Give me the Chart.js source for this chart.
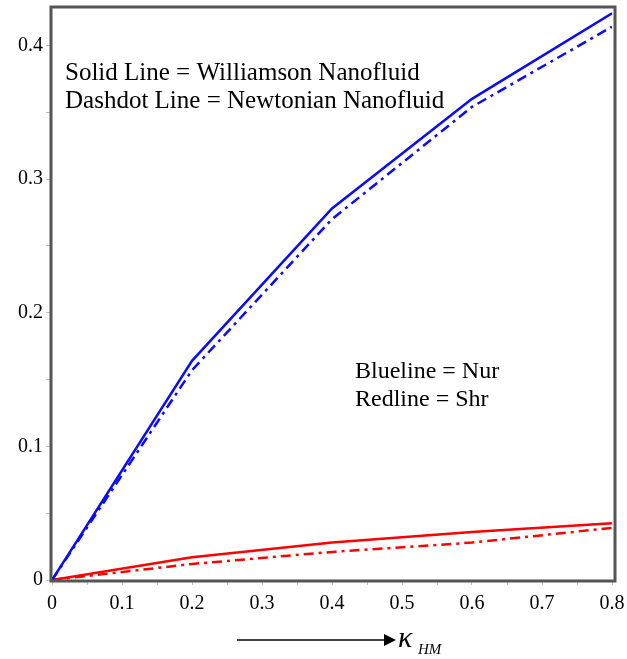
<!DOCTYPE html>
<html>
<head>
<meta charset="utf-8">
<script src="https://cdn.jsdelivr.net/npm/chart.js@4.4.1/dist/chart.umd.min.js"></script>
<style>
  html, body { margin: 0; padding: 0; background: #fff; }
  #wrap { width: 627px; height: 659px; }
</style>
</head>
<body>
<div id="wrap"><canvas id="chart" width="627" height="659"></canvas></div>
<script>
// Data
const kappa = [0, 0.2, 0.4, 0.6, 0.8];
const nurWilliamson = [0, 0.164, 0.278, 0.360, 0.424];
const nurNewtonian = [0, 0.157, 0.270, 0.354, 0.414];
const shrWilliamson = [0, 0.017, 0.028, 0.036, 0.0425];
const shrNewtonian = [0, 0.012, 0.021, 0.028, 0.039];

const xTicks = [0, 0.05, 0.1, 0.15, 0.2, 0.25, 0.3, 0.35, 0.4, 0.45, 0.5, 0.55, 0.6, 0.65, 0.7, 0.75, 0.8];
const yTicks = [0, 0.05, 0.1, 0.15, 0.2, 0.25, 0.3, 0.35, 0.4];
const xLabels = ["0", "0.1", "0.2", "0.3", "0.4", "0.5", "0.6", "0.7", "0.8"];
const yLabels = ["0", "0.1", "0.2", "0.3", "0.4"];

const toPoints = ys => kappa.map((k, i) => ({ x: k, y: ys[i] }));

const serif = '"Liberation Serif", "DejaVu Serif", serif';
const dashDot = [10, 5, 3, 5];

// frame + annotations
const extras = {
  id: "extras",
  afterDraw(chart) {
    const c = chart.ctx;
    const a = chart.chartArea;
    c.save();
    c.strokeStyle = "#555";
    c.lineWidth = 3;
    c.strokeRect(a.left - 1, a.top - 1, a.right - a.left + 4, a.bottom - a.top + 2);

    c.fillStyle = "#000";
    c.textBaseline = "alphabetic";
    c.font = "25px " + serif;
    c.fillText("Solid Line = Williamson Nanofluid", 65, 80);
    c.fillText("Dashdot Line = Newtonian Nanofluid", 65, 108);
    c.font = "24px " + serif;
    c.fillText("Blueline = Nur", 355, 378);
    c.fillText("Redline = Shr", 355, 406);

    // x axis title with arrow
    c.strokeStyle = "#000";
    c.lineWidth = 1.5;
    c.beginPath();
    c.moveTo(237, 640);
    c.lineTo(386, 640);
    c.stroke();
    c.beginPath();
    c.moveTo(396, 640);
    c.lineTo(384, 634);
    c.lineTo(384, 646);
    c.closePath();
    c.fill();
    c.font = "italic 30px " + serif;
    c.fillText("\u03ba", 398, 647);
    c.font = "italic 15px " + serif;
    c.fillText("HM", 418, 654);
    c.restore();
  }
};

new Chart(document.getElementById("chart"), {
  type: "line",
  data: {
    datasets: [
      { label: "Nur Williamson", data: toPoints(nurWilliamson), borderColor: "#0a0aff", borderWidth: 2.5 },
      { label: "Nur Newtonian", data: toPoints(nurNewtonian), borderColor: "#0a0aff", borderWidth: 2.5, borderDash: dashDot },
      { label: "Shr Williamson", data: toPoints(shrWilliamson), borderColor: "#ff0000", borderWidth: 2.5 },
      { label: "Shr Newtonian", data: toPoints(shrNewtonian), borderColor: "#ff0000", borderWidth: 2.5, borderDash: dashDot }
    ]
  },
  options: {
    responsive: false,
    animation: false,
    layout: { padding: { left: 0, right: 15, top: 8, bottom: 0 } },
    elements: { point: { radius: 0 }, line: { tension: 0 } },
    plugins: { legend: { display: false }, tooltip: { enabled: false } },
    scales: {
      x: {
        type: "linear",
        min: 0,
        max: 0.8,
        afterFit: s => { s.height = 79; s.paddingLeft = 0; s.paddingRight = 0; },
        afterBuildTicks: s => { s.ticks = xTicks.map(v => ({ value: v })); },
        grid: { drawOnChartArea: false, tickLength: 5, color: "#bbb" },
        border: { display: false },
        ticks: {
          autoSkip: false,
          maxRotation: 0,
          padding: 7,
          color: "#000",
          font: { family: serif, size: 20 },
          callback: v => {
            const i = Math.round(v * 10);
            return Math.abs(v * 10 - i) < 1e-6 ? xLabels[i] : "";
          }
        }
      },
      y: {
        type: "linear",
        min: 0,
        max: 0.428,
        afterFit: s => { s.width = 52; s.paddingTop = 0; s.paddingBottom = 0; },
        afterBuildTicks: s => { s.ticks = yTicks.map(v => ({ value: v })); },
        grid: { drawOnChartArea: false, tickLength: 6, color: "#bbb" },
        border: { display: false },
        ticks: {
          autoSkip: false,
          padding: 3,
          color: "#000",
          font: { family: serif, size: 20 },
          callback: v => {
            const i = Math.round(v * 10);
            return Math.abs(v * 10 - i) < 1e-6 ? yLabels[i] : "";
          }
        }
      }
    }
  },
  plugins: [extras]
});
</script>
</body>
</html>
